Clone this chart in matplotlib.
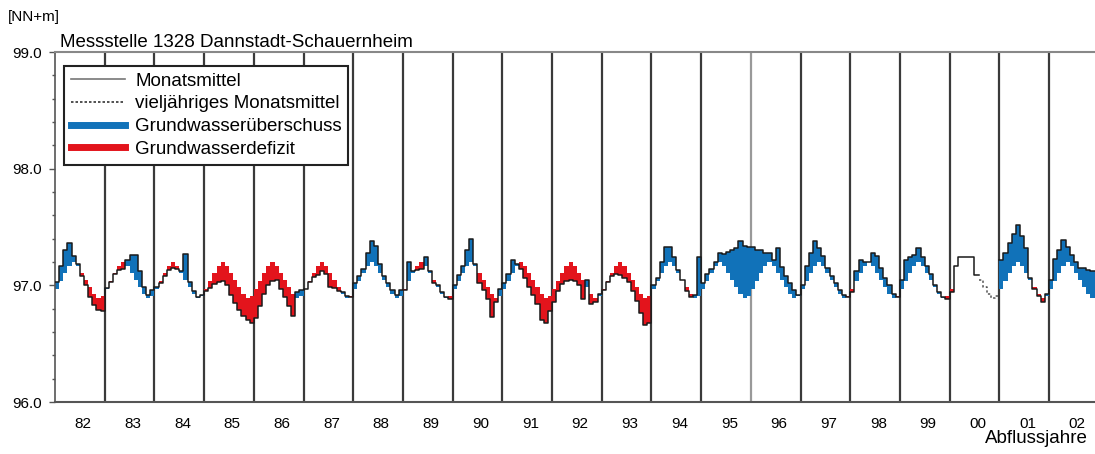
import numpy as np
import matplotlib.pyplot as plt
from matplotlib.lines import Line2D

plt.rcParams['font.family'] = ['Liberation Sans', 'DejaVu Sans']

# Abflussjahre (Nov - Okt)
jahre = ['82', '83', '84', '85', '86', '87', '88', '89', '90', '91', '92',
         '93', '94', '95', '96', '97', '98', '99', '00', '01', '02']

# vieljähriges Monatsmittel Nov..Okt [NN+m]
lt_monat = [96.97, 97.04, 97.11, 97.17, 97.20, 97.17, 97.11, 97.05, 96.99, 96.93, 96.89, 96.91]

# Monatsmittel je Abflussjahr (Nov..Okt)
j1982 = [97.03, 97.17, 97.30, 97.36, 97.25, 97.18, 97.08, 97.00, 96.90, 96.83, 96.79, 96.78]
j1983 = [96.98, 97.03, 97.10, 97.13, 97.14, 97.22, 97.26, 97.26, 97.12, 96.99, 96.92, 96.96]
j1984 = [96.99, 97.02, 97.08, 97.13, 97.15, 97.14, 97.12, 97.27, 97.03, 96.95, 96.90, 96.92]
j1985 = [96.95, 96.98, 97.01, 97.03, 97.04, 97.00, 96.92, 96.85, 96.79, 96.74, 96.70, 96.68]
j1986 = [96.72, 96.82, 96.93, 97.00, 97.04, 97.05, 96.97, 96.90, 96.82, 96.74, 96.94, 96.96]
j1987 = [96.97, 97.03, 97.07, 97.09, 97.12, 97.10, 96.99, 96.98, 96.95, 96.94, 96.91, 96.90]
j1988 = [97.02, 97.08, 97.14, 97.28, 97.38, 97.34, 97.18, 97.08, 97.02, 96.96, 96.92, 96.96]
j1989 = [96.96, 97.20, 97.12, 97.13, 97.14, 97.24, 97.12, 97.02, 97.00, 96.94, 96.90, 96.88]
j1990 = [97.00, 97.09, 97.17, 97.30, 97.40, 97.18, 97.02, 96.96, 96.88, 96.73, 96.86, 96.97]
j1991 = [97.02, 97.10, 97.22, 97.18, 97.14, 97.06, 96.99, 96.92, 96.84, 96.70, 96.68, 96.78]
j1992 = [96.86, 96.95, 97.01, 97.04, 97.05, 97.04, 97.00, 96.88, 97.05, 96.84, 96.86, 96.93]
j1993 = [96.96, 97.03, 97.08, 97.10, 97.09, 97.06, 97.03, 96.95, 96.87, 96.76, 96.66, 96.68]
j1994 = [97.00, 97.06, 97.20, 97.33, 97.33, 97.24, 97.13, 97.05, 96.95, 96.90, 96.92, 97.24]
j1995 = [97.02, 97.10, 97.14, 97.20, 97.28, 97.27, 97.29, 97.30, 97.32, 97.38, 97.34, 97.33]
j1996 = [97.33, 97.30, 97.30, 97.28, 97.28, 97.22, 97.32, 97.16, 97.08, 97.02, 96.96, 96.92]
j1997 = [97.00, 97.17, 97.28, 97.38, 97.32, 97.25, 97.15, 97.08, 97.02, 96.96, 96.92, 96.90]
j1998 = [96.94, 97.12, 97.22, 97.20, 97.20, 97.28, 97.25, 97.15, 97.06, 97.00, 96.93, 96.90]
j1999 = [97.05, 97.22, 97.24, 97.26, 97.32, 97.24, 97.17, 97.10, 97.00, 96.94, 96.90, 96.88]
j2000 = [96.94, 97.17, 97.24, 97.24, 97.24, 97.24, 97.09, np.nan, np.nan, np.nan, np.nan, np.nan]
j2001 = [97.22, 97.28, 97.36, 97.44, 97.52, 97.42, 97.32, 97.06, 96.97, 96.91, 96.86, 96.93]
j2002 = [97.05, 97.23, 97.30, 97.39, 97.33, 97.26, 97.20, 97.15, 97.15, 97.13, 97.12]

# Monate im Jahr 2000 ohne Flächenfüllung
ohne_fuellung_2000 = [1, 2, 3, 4, 5, 6]

reihen = [j1982, j1983, j1984, j1985, j1986, j1987, j1988, j1989, j1990, j1991, j1992,
          j1993, j1994, j1995, j1996, j1997, j1998, j1999, j2000, j2001, j2002]
mm = np.array(sum(reihen, []), dtype=float)
n = len(mm)
lt = np.array((lt_monat * len(reihen))[:n])

ok = ~np.isnan(mm)
ok[[jahre.index('00') * 12 + k for k in ohne_fuellung_2000]] = False

# Treppenkurven
xs = np.repeat(np.arange(n + 1), 2)[1:-1]
mm_s = np.repeat(mm, 2)
lt_s = np.repeat(lt, 2)
ok_s = np.repeat(ok, 2)
lt_sichtbar = np.where(np.repeat(np.isnan(mm), 2), lt_s, np.nan)

blau = '#1172b9'
rot = '#e3141c'

fig = plt.figure(figsize=(10.95, 4.54), dpi=100)
ax = fig.add_axes([55 / 1095, 1 - 402 / 454, 1 - 55 / 1095, 350 / 454])

with np.errstate(invalid='ignore'):
    ax.fill_between(xs, mm_s, lt_s, where=ok_s & (mm_s >= lt_s), color=blau, lw=0, zorder=2)
    ax.fill_between(xs, mm_s, lt_s, where=ok_s & (mm_s < lt_s), color=rot, lw=0, zorder=2)
ax.plot(xs, lt_sichtbar, color='#555555', lw=1.1, ls=(0, (1.5, 1.5)), zorder=3)
ax.plot(xs, mm_s, color='#1a1a1a', lw=1.1, zorder=4)

# Jahresgrenzen
for k in range(1, len(jahre)):
    farbe = '#999999' if jahre[k] == '96' else '#3a3a3a'
    ax.axvline(k * 12, color=farbe, lw=1.6, zorder=1)

ax.set_xlim(0, 251.1)
ax.set_ylim(96.0, 99.0)

ax.set_yticks([96.0, 97.0, 98.0, 99.0])
ax.set_yticklabels(['96.0', '97.0', '98.0', '99.0'], fontsize=11)
ax.set_yticks(np.arange(96.0, 99.01, 0.2), minor=True)
ax.tick_params(axis='y', which='major', length=4.5, width=1, color='#555555', pad=5)
ax.tick_params(axis='y', which='minor', length=2.5, width=1, color='#555555')

ax.set_xticks([k * 12 + 6.8 for k in range(len(jahre))])
ax.set_xticklabels(jahre, fontsize=11)
ax.tick_params(axis='x', length=0, pad=11)

ax.spines['right'].set_visible(False)
ax.spines['top'].set_color('#888888')
ax.spines['top'].set_linewidth(1.5)
ax.spines['bottom'].set_color('#555555')
ax.spines['bottom'].set_linewidth(1.5)
ax.spines['left'].set_color('#555555')
ax.spines['left'].set_linewidth(1.2)

handles = [
    Line2D([], [], color='#777777', lw=1.2),
    Line2D([], [], color='#333333', lw=1.2, ls=(0, (1.5, 1.2))),
    Line2D([], [], color=blau, lw=5),
    Line2D([], [], color=rot, lw=5),
]
labels = ['Monatsmittel', 'vieljähriges Monatsmittel', 'Grundwasserüberschuss', 'Grundwasserdefizit']
leg = ax.legend(handles, labels, loc='upper left', bbox_to_anchor=(64 / 1095, 1 - 66 / 454),
                bbox_transform=fig.transFigure, borderaxespad=0, fontsize=13.5,
                handlelength=2.9, handletextpad=0.55, labelspacing=0.3, borderpad=0.35,
                fancybox=False, framealpha=1)
leg.get_frame().set_edgecolor('#222222')
leg.get_frame().set_linewidth(1.5)
leg.set_zorder(5)

fig.text(60 / 1095, 1 - 47 / 454, 'Messstelle 1328 Dannstadt-Schauernheim', fontsize=13.5, va='baseline')
fig.text(8 / 1095, 1 - 21 / 454, '[NN+m]', fontsize=11, va='baseline')
fig.text(1088 / 1095, 1 - 443 / 454, 'Abflussjahre', fontsize=13.5, ha='right', va='baseline')

fig.savefig('out.png', dpi=100)
